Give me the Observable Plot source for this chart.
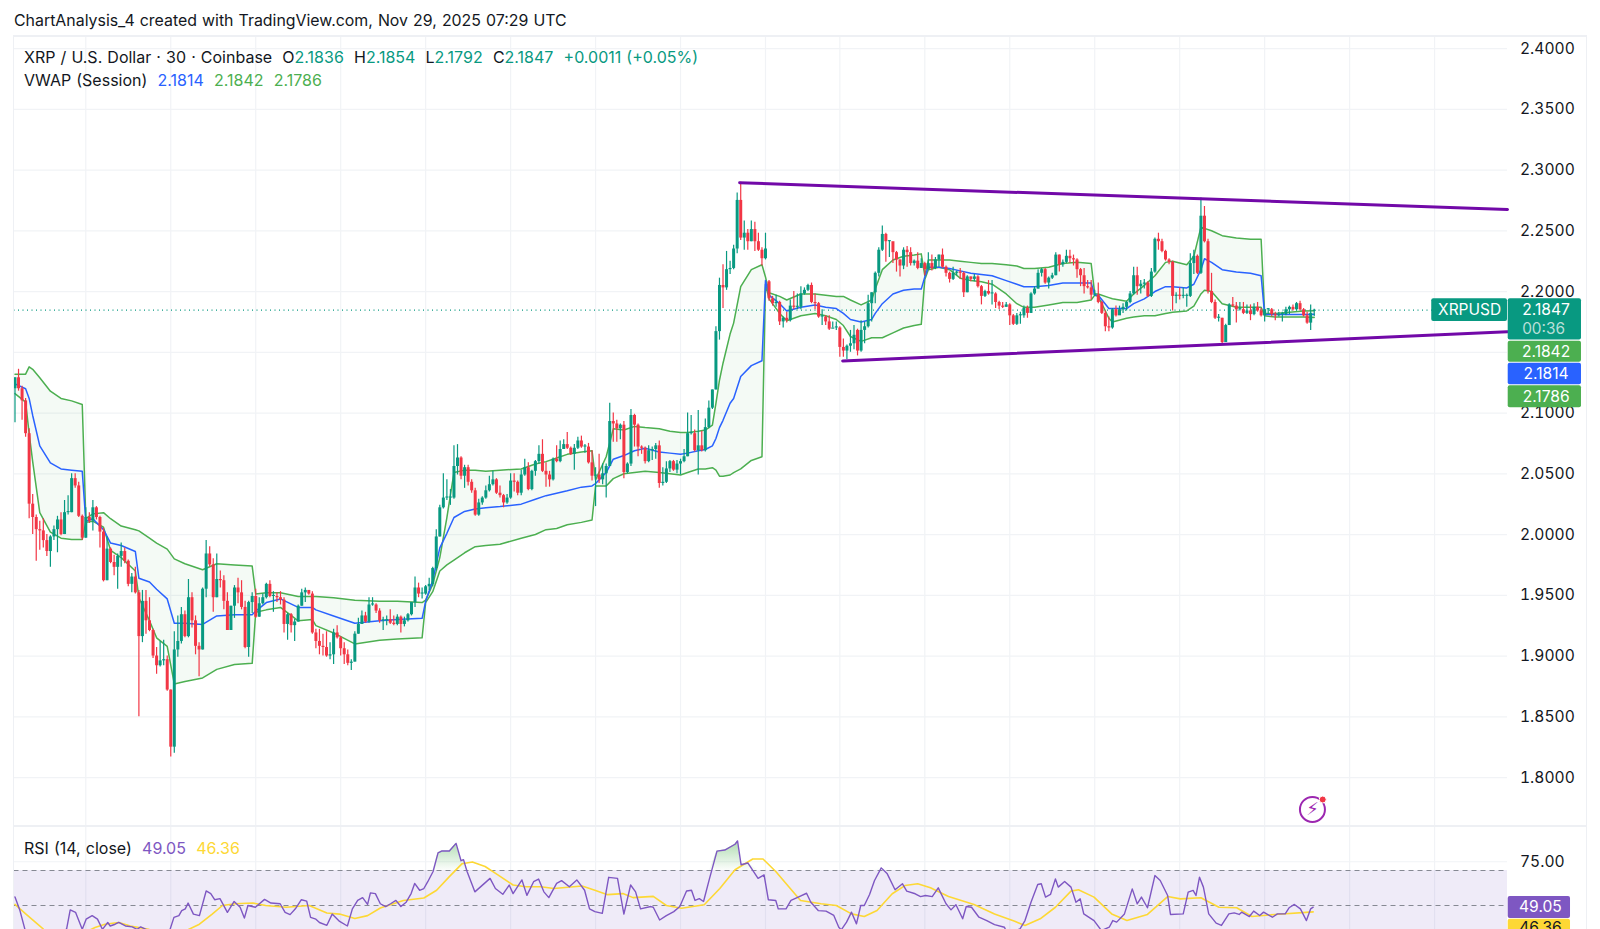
<!DOCTYPE html>
<html><head><meta charset="utf-8">
<script src="https://cdn.jsdelivr.net/npm/d3@7"></script>
<script src="https://cdn.jsdelivr.net/npm/@observablehq/plot@0.6"></script>
<style>
html,body{margin:0;padding:0;background:#fff;overflow:hidden}
body{font-family:Inter,"Noto Sans",sans-serif;color:#131722}
#wrap{position:relative;width:1600px;height:929px;overflow:hidden}
#wrap svg{position:absolute;left:0;max-width:none}
.hd{position:absolute;white-space:pre;font-size:16px;line-height:20px;z-index:3;word-spacing:0.6px}
.frame{position:absolute;background:#eef0f4}
</style></head><body>
<div id="wrap">
<div class="hd" style="left:14px;top:11px;font-size:15.9px">ChartAnalysis_4 created with TradingView.com, Nov 29, 2025 07:29 UTC</div>
<div class="hd" style="left:24px;top:47px">XRP / U.S. Dollar · 30 · Coinbase  O<span style="color:#089981">2.1836</span>  H<span style="color:#089981">2.1854</span>  L<span style="color:#089981">2.1792</span>  C<span style="color:#089981">2.1847</span>  <span style="color:#089981">+0.0011 (+0.05%)</span></div>
<div class="hd" style="left:24px;top:70px">VWAP (Session)  <span style="color:#2962ff">2.1814</span>  <span style="color:#4caf50">2.1842</span>  <span style="color:#4caf50">2.1786</span></div>
<div class="hd" style="left:24px;top:838px">RSI (14, close)  <span style="color:#7e57c2">49.05</span>  <span style="color:#fdd835">46.36</span></div>
</div>
<script>
// candles, one entry per 30 minute bar
const closes=[2.129,2.12,2.11,2.083,2.025,2.014,2.004,2.003,1.995,1.986,1.998,2.004,2.012,2.0,2.018,2.018,2.046,2.04,2.015,1.997,2.014,2.011,2.022,2.014,2.002,1.962,1.988,1.977,1.973,1.982,1.986,1.978,1.959,1.965,1.952,1.916,1.945,1.929,1.921,1.90,1.892,1.896,1.897,1.872,1.825,1.905,1.912,1.934,1.916,1.948,1.929,1.908,1.905,1.955,1.984,1.975,1.948,1.963,1.962,1.945,1.921,1.941,1.956,1.952,1.94,1.907,1.944,1.949,1.932,1.943,1.948,1.959,1.949,1.949,1.948,1.946,1.926,1.934,1.925,1.928,1.941,1.952,1.954,1.951,1.919,1.912,1.908,1.907,1.90,1.901,1.919,1.915,1.906,1.901,1.894,1.895,1.918,1.926,1.933,1.928,1.942,1.942,1.937,1.929,1.929,1.93,1.927,1.926,1.932,1.926,1.929,1.934,1.944,1.956,1.951,1.951,1.957,1.959,1.972,1.998,2.022,2.03,2.03,2.03,2.056,2.063,2.048,2.055,2.043,2.036,2.016,2.026,2.03,2.036,2.041,2.045,2.034,2.032,2.026,2.03,2.044,2.043,2.034,2.049,2.055,2.037,2.052,2.06,2.066,2.052,2.049,2.045,2.062,2.06,2.07,2.074,2.071,2.066,2.071,2.077,2.072,2.072,2.059,2.048,2.049,2.045,2.05,2.056,2.093,2.091,2.087,2.09,2.051,2.058,2.098,2.09,2.072,2.071,2.06,2.069,2.07,2.073,2.042,2.043,2.054,2.06,2.053,2.058,2.06,2.064,2.083,2.083,2.069,2.073,2.069,2.088,2.104,2.119,2.167,2.205,2.203,2.218,2.219,2.235,2.275,2.244,2.248,2.241,2.251,2.241,2.234,2.227,2.235,2.194,2.19,2.191,2.175,2.178,2.176,2.188,2.187,2.187,2.198,2.201,2.205,2.191,2.19,2.179,2.179,2.175,2.169,2.17,2.17,2.154,2.151,2.155,2.157,2.164,2.151,2.168,2.171,2.19,2.199,2.215,2.234,2.247,2.241,2.241,2.232,2.226,2.221,2.234,2.232,2.223,2.225,2.219,2.223,2.218,2.223,2.219,2.226,2.23,2.22,2.215,2.21,2.215,2.216,2.215,2.199,2.212,2.21,2.212,2.204,2.196,2.2,2.198,2.198,2.191,2.188,2.187,2.189,2.18,2.173,2.18,2.18,2.186,2.182,2.198,2.202,2.215,2.218,2.207,2.211,2.213,2.23,2.222,2.224,2.229,2.227,2.226,2.218,2.213,2.204,2.203,2.197,2.197,2.191,2.182,2.171,2.17,2.185,2.18,2.185,2.187,2.191,2.198,2.213,2.204,2.206,2.207,2.196,2.216,2.243,2.241,2.233,2.226,2.224,2.196,2.197,2.196,2.196,2.196,2.223,2.229,2.215,2.262,2.241,2.2,2.191,2.178,2.178,2.158,2.172,2.189,2.188,2.185,2.185,2.182,2.184,2.181,2.187,2.184,2.18,2.185,2.185,2.181,2.18,2.181,2.181,2.185,2.187,2.185,2.19,2.185,2.18,2.174,2.182,2.1847];
const highs=[2.129,2.136,2.122,2.112,2.087,2.033,2.016,2.011,2.013,2.0,1.999,2.007,2.015,2.018,2.028,2.032,2.05,2.05,2.043,2.016,2.022,2.018,2.028,2.023,2.015,2.005,1.998,1.989,1.983,1.984,1.993,1.989,1.979,1.968,1.973,1.954,1.954,1.954,1.948,1.922,1.907,1.912,1.913,1.9,1.872,1.92,1.933,1.94,1.937,1.963,1.952,1.933,1.911,1.956,1.995,1.99,1.98,1.984,1.97,1.966,1.952,1.941,1.958,1.964,1.962,1.945,1.945,1.952,1.955,1.948,1.951,1.96,1.962,1.953,1.952,1.953,1.948,1.935,1.935,1.93,1.942,1.955,1.956,1.954,1.953,1.922,1.922,1.918,1.92,1.911,1.922,1.925,1.916,1.911,1.905,1.897,1.92,1.931,1.937,1.936,1.948,1.948,1.943,1.939,1.932,1.933,1.938,1.933,1.934,1.933,1.932,1.935,1.944,1.965,1.96,1.956,1.958,1.964,1.973,2.004,2.024,2.05,2.045,2.037,2.073,2.074,2.064,2.057,2.057,2.045,2.038,2.029,2.031,2.04,2.048,2.052,2.046,2.04,2.033,2.033,2.05,2.05,2.044,2.053,2.062,2.059,2.053,2.061,2.073,2.078,2.059,2.052,2.063,2.073,2.077,2.078,2.084,2.072,2.074,2.08,2.081,2.074,2.075,2.069,2.055,2.066,2.058,2.058,2.108,2.1,2.094,2.091,2.093,2.059,2.103,2.099,2.091,2.073,2.072,2.073,2.072,2.075,2.077,2.055,2.06,2.061,2.061,2.061,2.062,2.07,2.1,2.098,2.086,2.102,2.085,2.095,2.11,2.119,2.171,2.211,2.222,2.233,2.225,2.238,2.281,2.29,2.258,2.251,2.258,2.257,2.248,2.236,2.248,2.209,2.196,2.197,2.192,2.179,2.183,2.193,2.2,2.198,2.204,2.203,2.206,2.207,2.198,2.191,2.185,2.18,2.18,2.175,2.175,2.171,2.161,2.156,2.168,2.172,2.169,2.176,2.175,2.197,2.199,2.216,2.236,2.254,2.248,2.242,2.24,2.233,2.226,2.236,2.237,2.236,2.226,2.232,2.227,2.224,2.232,2.23,2.228,2.23,2.235,2.221,2.216,2.22,2.217,2.219,2.216,2.213,2.212,2.214,2.213,2.205,2.201,2.209,2.209,2.199,2.192,2.191,2.191,2.19,2.181,2.182,2.183,2.188,2.188,2.199,2.204,2.218,2.219,2.219,2.212,2.215,2.232,2.23,2.226,2.234,2.234,2.23,2.227,2.219,2.219,2.209,2.209,2.201,2.207,2.192,2.184,2.179,2.186,2.188,2.188,2.19,2.192,2.2,2.22,2.22,2.209,2.21,2.208,2.219,2.244,2.248,2.243,2.234,2.227,2.225,2.199,2.203,2.203,2.198,2.231,2.234,2.23,2.277,2.27,2.243,2.215,2.193,2.181,2.178,2.173,2.19,2.195,2.191,2.191,2.191,2.189,2.189,2.19,2.191,2.186,2.185,2.186,2.186,2.183,2.183,2.183,2.187,2.188,2.189,2.191,2.192,2.186,2.183,2.189,2.1854];
const lows=[2.092,2.118,2.094,2.08,2.013,2.0,1.978,1.987,1.989,1.982,1.973,1.995,1.985,1.999,2.0,2.016,2.018,2.038,2.014,1.995,1.997,2.009,2.003,2.012,1.989,1.961,1.962,1.976,1.966,1.955,1.973,1.976,1.957,1.952,1.951,1.85,1.911,1.918,1.92,1.898,1.885,1.891,1.892,1.871,1.817,1.82,1.899,1.91,1.915,1.915,1.923,1.901,1.883,1.905,1.948,1.973,1.936,1.948,1.956,1.938,1.921,1.921,1.931,1.943,1.938,1.906,1.899,1.935,1.931,1.932,1.942,1.947,1.948,1.936,1.944,1.942,1.919,1.913,1.919,1.912,1.928,1.941,1.944,1.95,1.918,1.906,1.901,1.9,1.899,1.897,1.893,1.914,1.9,1.893,1.892,1.888,1.895,1.918,1.926,1.927,1.927,1.941,1.935,1.927,1.921,1.925,1.926,1.925,1.925,1.919,1.924,1.928,1.933,1.94,1.948,1.947,1.95,1.954,1.957,1.97,1.998,2.021,2.028,2.024,2.029,2.049,2.045,2.038,2.04,2.034,2.015,2.015,2.024,2.029,2.035,2.04,2.033,2.03,2.022,2.025,2.029,2.035,2.032,2.032,2.048,2.036,2.036,2.048,2.058,2.051,2.039,2.039,2.044,2.059,2.059,2.07,2.07,2.065,2.053,2.07,2.071,2.067,2.058,2.044,2.023,2.042,2.041,2.03,2.056,2.076,2.076,2.078,2.046,2.05,2.056,2.072,2.064,2.066,2.058,2.059,2.061,2.062,2.038,2.04,2.042,2.051,2.052,2.05,2.049,2.059,2.064,2.082,2.068,2.049,2.068,2.068,2.087,2.103,2.119,2.16,2.186,2.201,2.214,2.218,2.231,2.242,2.234,2.234,2.241,2.233,2.233,2.221,2.226,2.192,2.188,2.187,2.172,2.17,2.174,2.175,2.185,2.185,2.185,2.197,2.2,2.19,2.185,2.178,2.172,2.172,2.168,2.17,2.168,2.146,2.146,2.144,2.15,2.152,2.147,2.15,2.157,2.17,2.175,2.19,2.212,2.233,2.224,2.228,2.223,2.216,2.212,2.218,2.22,2.221,2.221,2.218,2.219,2.213,2.218,2.217,2.218,2.22,2.219,2.212,2.207,2.209,2.213,2.21,2.195,2.199,2.208,2.208,2.203,2.189,2.195,2.197,2.189,2.186,2.185,2.186,2.187,2.172,2.172,2.172,2.173,2.178,2.178,2.182,2.197,2.202,2.212,2.206,2.202,2.21,2.213,2.216,2.22,2.223,2.223,2.221,2.211,2.204,2.198,2.202,2.193,2.196,2.19,2.181,2.167,2.167,2.169,2.179,2.182,2.182,2.184,2.19,2.197,2.197,2.198,2.202,2.195,2.195,2.215,2.234,2.232,2.225,2.222,2.184,2.19,2.193,2.194,2.187,2.195,2.214,2.214,2.214,2.24,2.198,2.19,2.177,2.175,2.157,2.165,2.172,2.187,2.174,2.184,2.181,2.181,2.176,2.18,2.183,2.179,2.175,2.181,2.179,2.176,2.179,2.175,2.18,2.181,2.184,2.184,2.184,2.179,2.173,2.168,2.1792];
const openIdx=[0,213,238,367];
const openVal=[2.12,2.208,2.168,2.1836];

// session VWAP bands, vertices
const vwapIdx=[0,3,4,5,7,10,13,16,19, 20,22,25,27,30,34,35,38,40,43,45,48,53,57,62,67, 68,71,75,80,84,85,90,96,103,108,115, 116,118,120,122,124,127,130,133,137,143,147,150,153,156,160,163, 164,167,169,172,175,178,182,185,188,190,193,195,197,198,199,200,202,203,205,208,211, 212,213,216,218,222,226,229,232,234,236,239,242,243,245,248,251,254,256, 257,258,261,264,267,270,273,276,280,283,285,288,292,296,300,304, 305,306,309,310,314,316,319,322,325,327,331,333,335,336,338,341,345,349,352, 353,356,360,364,367];
const vwapUpper=[2.132,2.132,2.138,2.136,2.129,2.118,2.112,2.110,2.107, 2.013,2.017,2.018,2.013,2.007,2.004,2.003,1.997,1.993,1.988,1.98,1.976,1.971,1.976,1.975,1.974, 1.951,1.952,1.952,1.949,1.949,1.949,1.948,1.946,1.945,1.945,1.944, 1.946,1.959,1.981,2.014,2.051,2.053,2.053,2.052,2.053,2.054,2.058,2.06,2.063,2.066,2.068,2.069, 2.045,2.064,2.087,2.086,2.089,2.088,2.087,2.085,2.084,2.084,2.085,2.086,2.09,2.108,2.127,2.141,2.165,2.174,2.204,2.218,2.222, 2.212,2.199,2.196,2.193,2.198,2.198,2.197,2.196,2.196,2.193,2.189,2.193,2.202,2.218,2.226,2.229,2.23,2.231, 2.213,2.226,2.226,2.226,2.225,2.224,2.223,2.223,2.222,2.221,2.219,2.219,2.22,2.223,2.224,2.223, 2.198,2.198,2.195,2.194,2.192,2.198,2.205,2.213,2.224,2.225,2.222,2.229,2.253,2.252,2.25,2.246,2.244,2.243,2.243, 2.182,2.182,2.183,2.184,2.1842];
const vwapMid=[2.124,2.120,2.112,2.098,2.073,2.059,2.054,2.053,2.052, 2.011,2.013,2.004,1.993,1.991,1.986,1.964,1.961,1.955,1.947,1.927,1.927,1.926,1.933,1.934,1.934, 1.937,1.944,1.947,1.94,1.94,1.938,1.933,1.927,1.929,1.93,1.931, 1.945,1.962,1.989,2.001,2.014,2.019,2.021,2.022,2.023,2.025,2.029,2.032,2.034,2.036,2.039,2.04, 2.042,2.051,2.062,2.065,2.069,2.071,2.068,2.067,2.066,2.067,2.069,2.07,2.073,2.079,2.088,2.094,2.108,2.112,2.13,2.139,2.143, 2.209,2.197,2.19,2.184,2.187,2.189,2.187,2.186,2.182,2.177,2.175,2.177,2.182,2.19,2.198,2.201,2.202,2.202, 2.212,2.22,2.22,2.219,2.217,2.215,2.214,2.213,2.209,2.206,2.204,2.204,2.205,2.207,2.207,2.207, 2.197,2.197,2.186,2.186,2.186,2.19,2.194,2.2,2.204,2.204,2.203,2.206,2.218,2.227,2.224,2.218,2.216,2.215,2.213, 2.181,2.181,2.181,2.181,2.1814];
const vwapLower=[2.116,2.109,2.083,2.06,2.018,2.002,1.997,1.996,1.996, 2.01,2.011,2.006,1.987,1.981,1.97,1.948,1.929,1.915,1.908,1.877,1.879,1.882,1.889,1.893,1.894, 1.936,1.938,1.94,1.929,1.93,1.925,1.919,1.91,1.913,1.914,1.915, 1.944,1.953,1.97,1.975,1.979,1.985,1.99,1.991,1.992,1.997,2.0,2.004,2.005,2.008,2.01,2.012, 2.04,2.04,2.046,2.05,2.051,2.052,2.051,2.05,2.049,2.051,2.054,2.054,2.055,2.053,2.048,2.048,2.049,2.051,2.054,2.061,2.064, 2.206,2.194,2.182,2.176,2.18,2.182,2.18,2.177,2.172,2.163,2.159,2.162,2.162,2.162,2.166,2.17,2.172,2.173, 2.21,2.218,2.22,2.218,2.211,2.209,2.208,2.206,2.198,2.19,2.187,2.187,2.189,2.191,2.191,2.193, 2.197,2.196,2.178,2.175,2.178,2.179,2.18,2.18,2.182,2.183,2.184,2.188,2.198,2.201,2.2,2.19,2.187,2.187,2.187, 2.18,2.179,2.179,2.179,2.1786];

// trend lines
const trendUpperIdx=[204.7,421.6];
const trendUpperVal=[2.2896,2.2675];
const trendLowerIdx=[233.8,421.6];
const trendLowerVal=[2.1429,2.1668];

// RSI line and its moving average
const rsiIdx=[0,1.4,2.8,4.5,8.1,13.2,14.6,15.6,17.1,19,20.1,21.8,23.3,24.7,26.2,26.9,28.3,29.3,31.2,33.1,34.5,35.5,37,39.1,43.5,44.9,46.3,47.1,48.1,48.9,50.4,52.1,54,55.3,56.4,57.9,60,61.9,63.6,64.8,65.8,67.9,70.5,72.3,74.9,76.3,77.7,79.2,80.9,82.4,83.5,85,86,88.1,89.6,91.7,93.9,95.3,96.8,98.2,99.6,100.4,101.8,103.2,104.7,106.1,107.6,109,110.5,111.9,112.9,114.3,115.5,116.6,118.1,119.5,120.5,122.7,124.6,126,126.7,127.7,129.9,134.2,135.7,137.8,139.6,140.7,143.2,144.6,146.5,147.9,149.4,150.8,153,154.4,156.6,158.7,160.9,162.3,163.8,165.9,167.7,170.2,172,173.9,175.3,176.7,179.6,180.3,182.1,184,186.1,187.8,189.7,191.1,192.1,193.3,194.5,196.2,198.3,200.5,203.4,204.1,205.1,207,209.9,211.6,212.8,214.9,215.6,217.8,219.2,221.4,223.6,224.8,226.9,229.1,231.3,232.7,233.4,234.9,236.3,237.7,238.9,239.9,241.4,242.8,244.7,246.4,248.6,250.7,251.9,254.3,255.8,257.2,259.1,260.8,263,264.4,265.8,267.7,268.7,270.2,272.3,274.5,276.7,279.5,280.3,283.9,285.3,287,288.9,289.9,291.1,292.5,293.9,294.7,296.5,298.3,299.7,300.9,301.9,304.8,306.9,309.1,310.1,311.2,313.4,315.6,317,318.2,319.9,322,323.5,325.6,326.4,330,331.4,332.8,333.6,334.6,335.7,337.2,339.3,340.8,342.9,344.4,345.8,346.5,348.7,349.9,351.6,352.7,355.2,356.6,358.8,359.9,361.4,363.1,364.8,366,366.7];
const rsiVal=[54.9,47.1,36.4,29.6,25.7,33.5,36.8,47.5,46.1,36.4,42.2,44.2,42.2,36.4,40.3,38.3,39.3,40.3,38.3,37.8,36.4,37.8,36.4,33.5,34.5,43.2,44.2,47.1,48.1,51.4,45.1,44.2,58.3,56.8,53.3,53.9,46.1,52.3,49,42.8,50,49,53.5,51.4,51,46.1,44.8,48.1,53.3,52.5,43.2,42.2,40.3,38.7,45.1,40.9,38.3,48.1,52.9,54.5,50.6,57.2,56.8,51,49.4,51,52.9,49.4,51.9,56.8,62.6,58.7,59.7,63.6,69.4,80.1,81.1,81.1,85.5,75.6,76.2,69.4,57.8,65.5,59.7,56.4,61.7,56.8,64.6,55.8,63.6,65.1,57.8,54.5,62.6,64.2,60.7,64.6,58.7,48.1,46.5,45.5,66.1,65.5,45.1,61.7,57.8,48.1,49.4,49,41.7,44.2,46.5,49.4,58.3,58.7,52.9,53.9,52.3,65.5,81.1,81.7,85,86.9,73.3,74.3,65.5,67.5,53.3,52.9,48.1,48.1,52.9,54.9,57,51.9,47.1,46.8,44.3,37.6,36.1,40.5,46.2,39.5,50,50,56.3,64.3,71.5,68.1,59,62.4,58.2,56.7,55.1,55.7,55.1,60.1,51,47.5,50.4,42.4,49.4,49,43.3,41.4,39.1,37.6,33.8,36.7,41.4,51.9,62,62.4,54.8,56.3,65.2,60.5,63.7,60.5,51.9,53.8,45.2,41.4,35.7,37.6,41.4,40.5,45.2,59.5,51,54.8,48.7,67.1,64.3,55.7,44.9,45.2,57.6,58.6,55.7,66.2,60.5,45.2,39.9,38.6,45.2,45.8,44.9,46.2,43.7,46.8,44.3,46.2,43.3,45.2,45.2,48.7,50.6,48.1,41.4,48.1,49.05];
const maIdx=[0,3.1,8.1,8.9,14.6,22.6,25.4,29.3,32.6,37.7,39.1,48.5,52.1,55.7,58.6,62.2,67.2,70.8,76.6,83.1,88.1,91.7,96,99.6,103.2,109.7,115.5,119.1,122.7,126.3,129.2,132.8,136.4,140.7,144.3,148.6,152.2,160.2,163.8,167.4,171.7,174.6,180.3,184,188.3,194.7,199.1,203.4,208.4,211.3,214.9,219,221.9,227.7,232,236.3,239.9,243.5,247.8,251.4,255,258.6,263.7,270.9,276.7,282.4,285.3,289.6,293.9,298.3,300.4,304.8,309.8,314.1,319.9,325.6,329.2,335,340.1,345.1,349.4,355.9,366.7];
const maVal=[50.6,45.1,36.4,35.4,29.6,37.4,39.3,40.3,38.3,36.4,35.4,35.8,39.3,45.1,50,51,51.4,50,49,50,45.7,45.1,42.6,44.2,48.6,52.9,54.3,58.7,66.5,73.9,74.9,72.3,67.5,61.7,60.7,60.7,59.7,61.1,58.7,56.2,56.8,54.5,55.2,50,48.4,50.4,59.7,70.4,76.6,76.6,69.4,59.7,52.9,51,50,45.2,43.7,47.1,56.7,61.4,62.4,60.1,55.1,50.6,45.2,41,38.6,42.4,49,58.2,59,54.8,45.2,41.4,44.9,55.1,53.8,54.4,49,48.7,43.7,44.9,46.36];

// scales and grid
const gridIdx=[20,44,68,92,116,140,164,188,212,233,257,281,305,329,353,377,401];
const priceGrid=[1.8,1.85,1.9,1.95,2.0,2.05,2.1,2.15,2.2,2.25,2.3,2.35,2.4];
const priceLabels=[1.8,1.85,1.9,1.95,2.0,2.05,2.1,2.2,2.25,2.3,2.35,2.4];
const xDomain=[-0.28,421.6];
const priceDomain=[1.7597,2.4099];
const rsiDomain=[36.29,95.14];
const lastPrice=2.1847;

// price-scale tags
const tagText=["2.1842","2.1814","2.1786"];
const tagColor=["#4caf50","#2962ff","#4caf50"];
const tagTop=[2.1591,2.1410,2.1224];
const tagBottom=[2.1418,2.1232,2.1043];
const tagMiddle=[2.1504,2.1321,2.1133];

const GREEN="#089981",RED="#f23645",GRID="#f1f3f6";
const candles=closes.map((c,i)=>{
  const k=openIdx.indexOf(i);
  const o=k>=0?openVal[k]:closes[i-1];
  const lo=Math.min(o,c),hi=Math.max(o,c);
  return {i,o,c,h:highs[i],l:lows[i],lo,hi:Math.max(hi,lo+0.0009),col:c>=o?GREEN:RED};
});
const band=vwapIdx.map((i,k)=>({i,u:vwapUpper[k],m:vwapMid[k],l:vwapLower[k]}));
const rsi=rsiIdx.map((i,k)=>({i,v:rsiVal[k]}));
const ma=maIdx.map((i,k)=>({i,v:maVal[k]}));
const tags=tagText.map((t,k)=>({t,col:tagColor[k],top:tagTop[k],bot:tagBottom[k],mid:tagMiddle[k]}));
const tu=trendUpperIdx.map((i,k)=>({i,v:trendUpperVal[k]}));
const tl=trendLowerIdx.map((i,k)=>({i,v:trendLowerVal[k]}));

const pricePlot=Plot.plot({
  width:1600,height:790,marginLeft:13.5,marginRight:93,marginTop:0,marginBottom:0,
  style:{fontFamily:"Inter, sans-serif",fontSize:"16px",background:"transparent",color:"#131722"},
  x:{domain:xDomain,axis:null},
  y:{domain:priceDomain,axis:null},
  marks:[
    Plot.ruleY(priceGrid,{stroke:GRID,strokeWidth:1.2}),
    Plot.ruleX(gridIdx,{stroke:GRID,strokeWidth:1.2}),
    Plot.axisY({anchor:"right",ticks:priceLabels,tickFormat:d=>d.toFixed(4),tickSize:0,tickPadding:12.5,fontSize:15.6,label:null,stroke:"none",fill:"#131722"}),
    Plot.ruleY([lastPrice],{stroke:GREEN,strokeDasharray:"1 3.5",strokeWidth:1.1}),
    Plot.areaY(band,{x:"i",y1:"u",y2:"l",fill:"#4caf50",fillOpacity:0.06,curve:"linear"}),
    Plot.line(band,{x:"i",y:"u",stroke:"#4caf50",strokeWidth:1.5}),
    Plot.line(band,{x:"i",y:"l",stroke:"#4caf50",strokeWidth:1.5}),
    Plot.line(band,{x:"i",y:"m",stroke:"#2962ff",strokeWidth:1.5}),
    Plot.ruleX(candles,{x:"i",y1:"l",y2:"h",stroke:"col",strokeWidth:1.2}),
    Plot.ruleX(candles,{x:"i",y1:"lo",y2:"hi",stroke:"col",strokeWidth:3}),
    Plot.line(tu,{x:"i",y:"v",stroke:"#7209a8",strokeWidth:3}),
    Plot.line(tl,{x:"i",y:"v",stroke:"#7209a8",strokeWidth:3}),
    // tags
    Plot.rect([0],{x1:()=>400.2,x2:()=>421.6,y1:()=>2.1753,y2:()=>2.1940,fill:GREEN,rx:2}),
    Plot.text(["XRPUSD"],{x:()=>410.9,y:()=>lastPrice,text:d=>d,fill:"#fff",fontSize:15.5}),
    Plot.rect([0],{x1:()=>421.8,x2:()=>442.5,y1:()=>2.1602,y2:()=>2.1940,fill:GREEN,rx:2}),
    Plot.text([lastPrice.toFixed(4)],{x:()=>432.5,y:()=>lastPrice,text:d=>d,fill:"#fff",fontSize:15.6}),
    Plot.text(["00:36"],{x:()=>431.8,y:()=>2.1687,text:d=>d,fill:"#b8dfd8",fontSize:15.4}),
    Plot.rect(tags,{x1:()=>421.8,x2:()=>442.5,y1:"bot",y2:"top",fill:"col",rx:2}),
    Plot.text(tags,{x:()=>432.5,y:"mid",text:"t",fill:"#fff",fontSize:15.6}),
    // alert icon
    Plot.dot([0],{x:()=>366.5,y:()=>1.7737,r:12.5,stroke:"#9c27b0",strokeWidth:2,fill:"#fff"}),
    Plot.dot([0],{x:()=>369.4,y:()=>1.7819,r:3.5,fill:RED,stroke:"#fff",strokeWidth:1}),
    Plot.text(["⚡"],{x:()=>366.5,y:()=>1.7737,text:d=>d,fill:"#9c27b0",fontSize:18,fontFamily:"DejaVu Sans"})
  ]
});
pricePlot.style.top="36px";

const rsiPlot=Plot.plot({
  width:1600,height:103,marginLeft:13.5,marginRight:93,marginTop:0,marginBottom:0,
  style:{fontFamily:"Inter, sans-serif",fontSize:"16px",background:"transparent",color:"#131722"},
  x:{domain:xDomain,axis:null},
  y:{domain:rsiDomain,axis:null},
  marks:[
    ()=>{const d=d3.create("svg:defs");const g=d.append("linearGradient").attr("id","ob").attr("x1",0).attr("x2",0).attr("y1",0).attr("y2",1);
      g.append("stop").attr("offset","0%").attr("stop-color","#4caf50").attr("stop-opacity",0.45);
      g.append("stop").attr("offset","100%").attr("stop-color","#4caf50").attr("stop-opacity",0.02);return d.node();},
    Plot.ruleY([75],{stroke:GRID,strokeWidth:1.2}),
    Plot.ruleX(gridIdx,{stroke:GRID,strokeWidth:1.2}),
    Plot.rect([0],{x1:()=>xDomain[0],x2:()=>xDomain[1],y1:()=>30,y2:()=>70,fill:"#7e57c2",fillOpacity:0.12,clip:true}),
    Plot.ruleY([70,50],{stroke:"#868993",strokeDasharray:"5 4",strokeWidth:1.2}),
    Plot.axisY({anchor:"right",ticks:[75],tickFormat:d=>d.toFixed(2),tickSize:0,tickPadding:12.5,fontSize:15.6,label:null,stroke:"none",fill:"#131722"}),
    Plot.areaY(rsi,{x:"i",y1:()=>70,y2:d=>Math.max(d.v,70),fill:"url(#ob)",clip:true}),
    Plot.line(ma,{x:"i",y:"v",stroke:"#fdd835",strokeWidth:1.6,clip:true}),
    Plot.line(rsi,{x:"i",y:"v",stroke:"#7e57c2",strokeWidth:1.4,clip:true}),
    Plot.rect([0],{x1:()=>421.8,x2:()=>439.4,y1:()=>42.6,y2:()=>55.1,fill:"#7e57c2",rx:2}),
    Plot.text(["49.05"],{x:()=>430.9,y:()=>49.05,text:d=>d,fill:"#fff",fontSize:15.6}),
    Plot.rect([0],{x1:()=>421.8,x2:()=>439.4,y1:()=>30,y2:()=>42.1,fill:"#fdd835",rx:2}),
    Plot.text(["46.36"],{x:()=>430.9,y:()=>37,text:d=>d,fill:"#131722",fontSize:15.6})
  ]
});
rsiPlot.style.top="826px";

const wrap=document.getElementById("wrap");
wrap.appendChild(pricePlot);
wrap.appendChild(rsiPlot);
for(const [l,t,w,h] of [[13,35,1574,2],[13,825,1574,2],[13,35,1,894],[1586,35,1,894]]){
  const f=document.createElement("div");f.className="frame";
  f.style.cssText=`left:${l}px;top:${t}px;width:${w}px;height:${h}px`;
  wrap.appendChild(f);
}
</script>
</body></html>
